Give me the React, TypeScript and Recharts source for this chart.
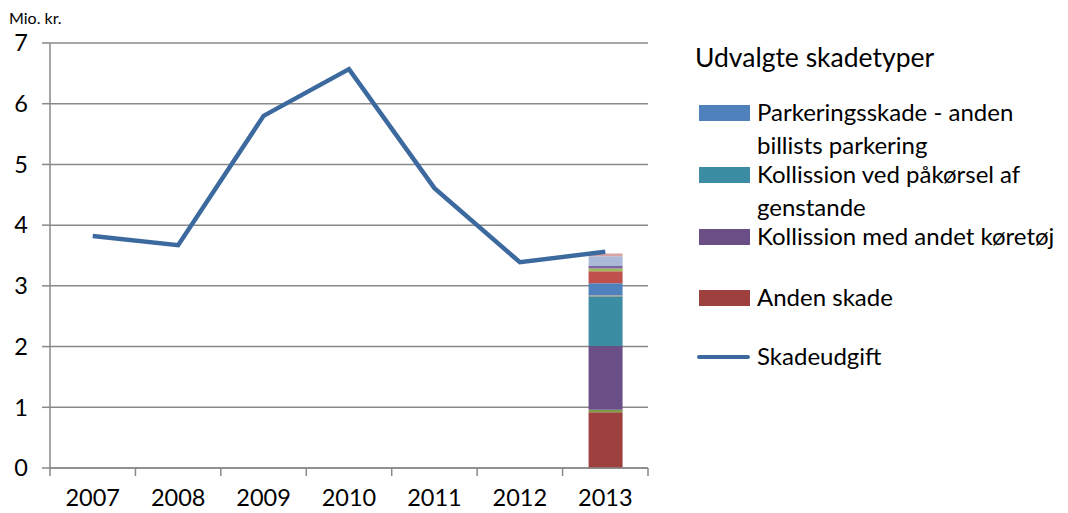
import React from 'react'
import { ComposedChart, Bar, Line, CartesianGrid, XAxis, YAxis } from 'recharts'

// years and yearly damage cost (mio. kr.)
const years = ['2007', '2008', '2009', '2010', '2011', '2012', '2013']
const skadeudgift = [3.82, 3.67, 5.8, 6.57, 4.61, 3.39, 3.56]

// 2013 split by damage type, bottom to top
const andenSkade = 0.92
const ukendt1 = 0.04
const kollisionKoeretoej = 1.05
const kollisionGenstande = 0.82
const ukendt2 = 0.012
const parkering = 0.2
const ukendt3 = 0.2
const ukendt4 = 0.045
const ukendt5 = 0.04
const ukendt6 = 0.16
const ukendt7 = 0.045

const yTicks = [0, 1, 2, 3, 4, 5, 6, 7]

const data = years.map((y, i) => {
  const last = i === years.length - 1
  return {
    year: y,
    skadeudgift: skadeudgift[i],
    s1: last ? andenSkade : null,
    s2: last ? ukendt1 : null,
    s3: last ? kollisionKoeretoej : null,
    s4: last ? kollisionGenstande : null,
    s5: last ? ukendt2 : null,
    s6: last ? parkering : null,
    s7: last ? ukendt3 : null,
    s8: last ? ukendt4 : null,
    s9: last ? ukendt5 : null,
    s10: last ? ukendt6 : null,
    s11: last ? ukendt7 : null,
  }
})

const stacks = [
  { key: 's1', color: '#9E413E' },
  { key: 's2', color: '#7F9A48' },
  { key: 's3', color: '#6A4F86' },
  { key: 's4', color: '#3C8CA4' },
  { key: 's5', color: '#F79646' },
  { key: 's6', color: '#4F81BD' },
  { key: 's7', color: '#C0504D' },
  { key: 's8', color: '#9BBB59' },
  { key: 's9', color: '#8064A2' },
  { key: 's10', color: '#AAB9D7' },
  { key: 's11', color: '#D8A4A3' },
]

const legendItems = [
  { lines: ['Parkeringsskade - anden', 'billists parkering'], color: '#4F81BD', top: 113 },
  { lines: ['Kollission ved påkørsel af', 'genstande'], color: '#3C8CA4', top: 175 },
  { lines: ['Kollission med andet køretøj'], color: '#6A4F86', top: 237 },
  { lines: ['Anden skade'], color: '#9E413E', top: 298 },
]

const font = 'Lato, "Open Sans", sans-serif'
const axisGray = '#898989'
const band = 598 / 7

const XTick = (props: any) => {
  const { x, y, payload, index } = props
  return (
    <g>
      <line x1={x - band / 2} x2={x - band / 2} y1={y} y2={y + 8} stroke={axisGray} strokeWidth={1.5} />
      {index === years.length - 1 && (
        <line x1={x + band / 2} x2={x + band / 2} y1={y} y2={y + 8} stroke={axisGray} strokeWidth={1.5} />
      )}
      <text x={x} y={y + 38} textAnchor="middle" fontSize={23.5} fill="#000" fontFamily={font}>
        {payload.value}
      </text>
    </g>
  )
}

const textStyle = { position: 'absolute' as const, left: 62, fontSize: 24, lineHeight: '30px', whiteSpace: 'nowrap' as const }

const ChartLegend = () => (
  <div style={{ position: 'absolute', left: 695, top: 0, width: 370, height: 400, fontFamily: font, color: '#000' }}>
    <div style={{ position: 'absolute', left: 0, top: 41, fontSize: 26.5, lineHeight: '32px', whiteSpace: 'nowrap' }}>
      Udvalgte skadetyper
    </div>
    {legendItems.map((it) => (
      <div key={it.lines[0]}>
        <div style={{ position: 'absolute', left: 4, top: it.top - 8, width: 51, height: 16, background: it.color }} />
        {it.lines.map((l, j) => (
          <div key={l} style={{ ...textStyle, top: it.top - 16 + j * 33 }}>
            {l}
          </div>
        ))}
      </div>
    ))}
    <div style={{ position: 'absolute', left: 2, top: 357 - 2, width: 53, height: 4, borderRadius: 2, background: '#3D6A9E' }} />
    <div style={{ ...textStyle, top: 357 - 16 }}>Skadeudgift</div>
  </div>
)

const App = () => {
  return (
    <div style={{ position: 'fixed', left: 0, top: 0, width: 1068, height: 513, background: '#fff' }}>
      <div style={{ position: 'absolute', left: 9, top: 8, fontSize: 16, fontFamily: font, color: '#000' }}>Mio. kr.</div>
      <ComposedChart width={1068} height={513} data={data} margin={{ top: 43, right: 420, bottom: 0, left: 0 }}>
        <CartesianGrid vertical={false} stroke={axisGray} strokeWidth={1.5} />
        <XAxis
          dataKey="year"
          height={45}
          interval={0}
          tickSize={0}
          tickMargin={0}
          tickLine={false}
          tick={<XTick />}
          axisLine={{ stroke: axisGray, strokeWidth: 1.5 }}
        />
        <YAxis
          width={50}
          domain={[0, 7]}
          ticks={yTicks}
          interval={0}
          tickSize={8}
          tickMargin={14}
          tick={{ fontSize: 23.5, fill: '#000', fontFamily: font }}
          tickLine={{ stroke: axisGray, strokeWidth: 1.5 }}
          axisLine={{ stroke: axisGray, strokeWidth: 1.5 }}
        />
        {stacks.map((s) => (
          <Bar key={s.key} dataKey={s.key} stackId="a" fill={s.color} barSize={34} isAnimationActive={false} />
        ))}
        <Line
          dataKey="skadeudgift"
          type="linear"
          stroke="#3D6A9E"
          strokeWidth={4.5}
          dot={false}
          activeDot={false}
          isAnimationActive={false}
        />
      </ComposedChart>
      <ChartLegend />
    </div>
  )
}

export default App
